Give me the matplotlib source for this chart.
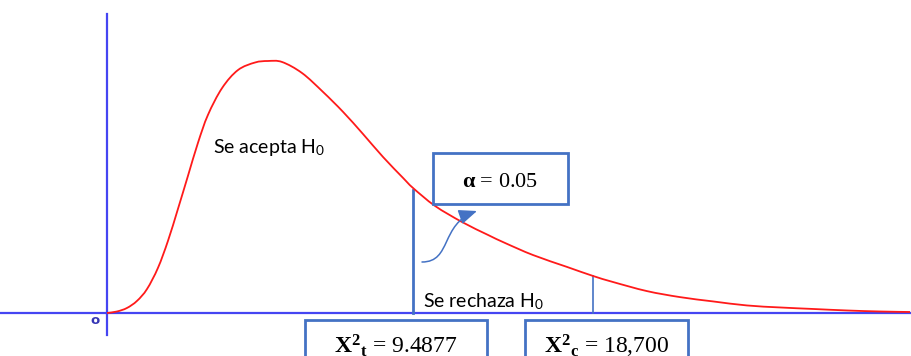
import numpy as np
import matplotlib
matplotlib.use("Agg")
import matplotlib.pyplot as plt
from matplotlib.patches import Rectangle, FancyArrowPatch, PathPatch
from matplotlib.path import Path

plt.rcParams['mathtext.fontset'] = 'custom'
plt.rcParams['mathtext.rm'] = 'Liberation Serif'
plt.rcParams['mathtext.bf'] = 'Liberation Serif:bold'
plt.rcParams['mathtext.it'] = 'Liberation Serif:italic'
plt.rcParams['mathtext.sf'] = 'Lato'

# ---- data (schematic chi-square curve) ----
curve_x = [0.00, 0.31, 0.62, 0.93, 1.24, 1.58, 1.89, 2.20, 2.51, 2.82, 3.13, 3.57,
           4.06, 4.59, 4.99, 5.43, 6.05, 6.70, 7.32, 7.94, 8.56, 9.18, 9.49,
           10.17, 11.01, 11.81, 12.34, 13.21, 14.26, 15.07, 15.69,
           16.74, 17.77, 18.79, 19.84, 20.87, 21.89, 22.95, 23.97, 24.90]
curve_y = [0.000, 0.006, 0.020, 0.048, 0.095, 0.179, 0.286, 0.413, 0.544, 0.675, 0.786, 0.893,
           0.964, 0.994, 1.000, 0.996, 0.952, 0.877, 0.798, 0.710, 0.619, 0.536, 0.496,
           0.425, 0.361, 0.310, 0.278, 0.230, 0.183, 0.147, 0.123,
           0.087, 0.063, 0.046, 0.030, 0.022, 0.016, 0.010, 0.006, 0.004]
marker_x = [9.49, 15.07]          # drawn positions of the two vertical markers
marker_top = [0.488, 0.147]
alpha_label = "0.05"
chi_table_label = "9.4877"
chi_calc_label = "18,700"


# pixel -> data helpers for annotation placement
def X(px):
    return (px - 107) / 32.25


def Y(py):
    return (313 - py) / 252


def smooth_path(xs, ys):
    """Catmull-Rom curve through the given points, as cubic Bezier segments."""
    P = np.column_stack([xs, ys]).astype(float)
    n = len(P)
    verts = [tuple(P[0])]
    codes = [Path.MOVETO]
    for i in range(n - 1):
        p0 = P[i - 1] if i > 0 else P[i]
        p1 = P[i]
        p2 = P[i + 1]
        p3 = P[i + 2] if i + 2 < n else P[i + 1]
        c1 = p1 + (p2 - p0) / 6.0
        c2 = p2 - (p3 - p1) / 6.0
        verts += [tuple(c1), tuple(c2), tuple(p2)]
        codes += [Path.CURVE4] * 3
    return Path(verts, codes)


fig = plt.figure(figsize=(9.12, 3.56), dpi=100)
ax = fig.add_axes([0, 0, 1, 1])
ax.set_xlim(X(0), X(912))
ax.set_ylim(Y(356), Y(0))
ax.axis('off')

axis_blue = '#4545F2'
box_blue = '#4472C4'

# axes lines
ax.plot([X(0), X(912)], [0, 0], color=axis_blue, lw=1.6, zorder=2)
ax.plot([0, 0], [Y(335), Y(14)], color=axis_blue, lw=1.6, zorder=2)
ax.text(X(95.5), Y(321), 'o', color='#3535B5', fontsize=9.5, fontweight='bold',
        ha='center', va='center', family='DejaVu Sans')

# curve
ax.add_patch(PathPatch(smooth_path(curve_x, curve_y), facecolor='none',
                       edgecolor='#FF1A1A', lw=1.3, zorder=3))

# vertical markers
ax.plot([marker_x[0]] * 2, [0, marker_top[0]], color=box_blue, lw=2.0, zorder=2)
ax.plot([marker_x[1]] * 2, [0, marker_top[1]], color=box_blue, lw=1.2, zorder=2)

# region labels
ax.text(X(213), Y(153), r'Se acepta H$_\mathsf{0}$', fontsize=14, family='Lato',
        ha='left', va='baseline')
ax.text(X(423), Y(307), r'Se rechaza H$_\mathsf{0}$', fontsize=14, family='Lato',
        ha='left', va='baseline')

# alpha box
ax.add_patch(Rectangle((X(433), Y(204)), X(568) - X(433), Y(153) - Y(204),
                       facecolor='white', edgecolor=box_blue, lw=2.0, zorder=4))
ax.text(X(500), Y(187), r'$\mathbf{α}$ = ' + alpha_label, fontsize=16,
        family='Liberation Serif', ha='center', va='baseline', zorder=5)

# bottom boxes
ax.add_patch(Rectangle((X(305), Y(380)), X(487) - X(305), Y(320) - Y(380),
                       facecolor='white', edgecolor=box_blue, lw=2.0, zorder=4))
ax.add_patch(Rectangle((X(525), Y(380)), X(688) - X(525), Y(320) - Y(380),
                       facecolor='white', edgecolor=box_blue, lw=2.0, zorder=4))
ax.text(X(396), Y(353), r'$\mathbf{X^{2}{}_{t}}$ = ' + chi_table_label, fontsize=17,
        family='Liberation Serif', ha='center', va='baseline', zorder=5)
ax.text(X(607), Y(353), r'$\mathbf{X^{2}{}_{c}}$ = ' + chi_calc_label, fontsize=17,
        family='Liberation Serif', ha='center', va='baseline', zorder=5)

# curved arrow
verts = [(X(422), Y(262)), (X(452), Y(262)), (X(440), Y(224)), (X(477), Y(211))]
codes = [Path.MOVETO, Path.CURVE4, Path.CURVE4, Path.CURVE4]
arrow = FancyArrowPatch(path=Path(verts, codes), arrowstyle='-|>,head_length=11,head_width=4.5',
                        color=box_blue, lw=1.1, zorder=6)
ax.add_patch(arrow)

fig.savefig('out.png', dpi=100)
